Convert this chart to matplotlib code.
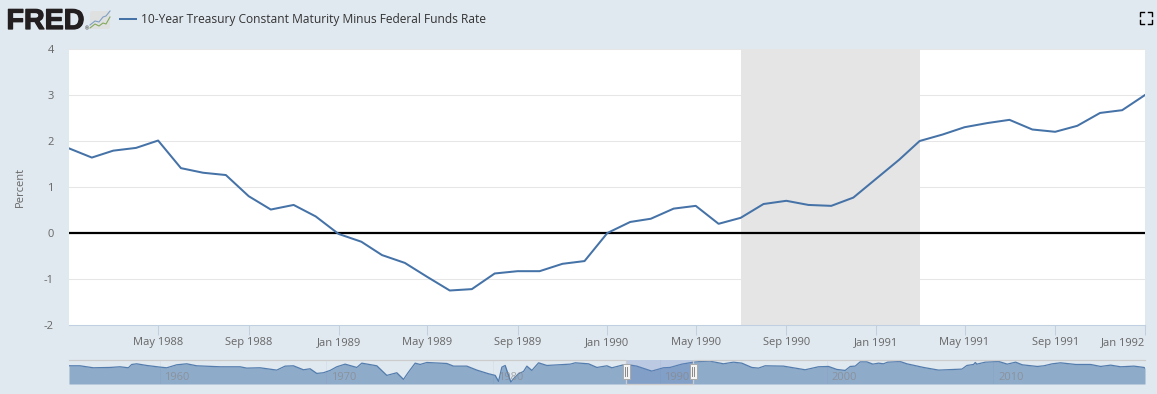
"""FRED chart: 10-year treasury minus federal funds rate, Jan 1988 to Jan 1992."""

import matplotlib.pyplot as plt
import matplotlib.patheffects as pe
import pandas as pd
from matplotlib.patches import FancyBboxPatch, Rectangle

W, H = 1157, 394
BG = "#e1e9f0"
BLUE = "#4572a7"

spread = [
    1.84, 1.64, 1.79, 1.85, 2.01, 1.41, 1.31, 1.26, 0.80, 0.51, 0.61, 0.36,
    -0.02, -0.19, -0.48, -0.65, -0.95, -1.25, -1.22, -0.88, -0.83, -0.83, -0.67, -0.61,
    0.00, 0.24, 0.31, 0.53, 0.59, 0.20, 0.33, 0.63, 0.70, 0.61, 0.59, 0.77,
    1.18, 1.59, 2.00, 2.14, 2.30, 2.39, 2.46, 2.25, 2.20, 2.33, 2.61, 2.67, 3.00,
]
months = pd.date_range("1988-01-01", periods=len(spread), freq="MS")

recession = ("1990-07-01", "1991-03-01")
y_ticks = [-2, -1, 0, 1, 2, 3, 4]
x_ticks = pd.to_datetime([
    "1988-05-01", "1988-09-01", "1989-01-01", "1989-05-01", "1989-09-01", "1990-01-01",
    "1990-05-01", "1990-09-01", "1991-01-01", "1991-05-01", "1991-09-01", "1992-01-01",
])
x_labels = [
    "May 1988", "Sep 1988", "Jan 1989", "May 1989", "Sep 1989", "Jan 1990",
    "May 1990", "Sep 1990", "Jan 1991", "May 1991", "Sep 1991", "Jan 1992",
]

# navigator strip, whole history of the series
nav_years = [
    1954.57, 1955.23, 1956.03, 1957.03, 1957.63, 1958.13, 1958.33, 1958.63, 1959.23,
    1960.03, 1960.43, 1961.03, 1961.63, 1962.23, 1963.63, 1964.83, 1965.23, 1966.03,
    1967.03, 1967.53, 1968.03, 1968.63, 1969.03, 1969.43, 1969.83, 1970.23, 1970.63,
    1971.13, 1971.83, 1972.13, 1973.03, 1973.63, 1974.23, 1974.63, 1974.93, 1975.33,
    1975.63, 1976.03, 1977.23, 1977.63, 1978.03, 1978.43, 1979.03, 1979.73, 1980.13,
    1980.33, 1980.53, 1980.73, 1980.93, 1981.07, 1981.23, 1981.53, 1981.83, 1982.03,
    1982.33, 1982.73, 1983.23, 1984.63, 1984.93, 1985.73, 1986.23, 1986.83, 1987.13,
    1987.83, 1988.02, 1988.62, 1989.52, 1990.22, 1990.62, 1991.32, 1992.02, 1992.42,
    1993.02, 1993.82, 1994.42, 1994.92, 1995.52, 1995.92, 1996.32, 1997.42, 1998.72,
    1999.52, 2000.12, 2000.62, 2001.12, 2001.42, 2001.72, 2002.02, 2002.42, 2002.78,
    2003.12, 2003.42, 2003.66, 2004.42, 2004.82, 2005.82, 2006.72, 2008.12, 2008.42,
    2008.82, 2008.92, 2009.02, 2009.52, 2010.34, 2010.84, 2011.34, 2011.74, 2012.64,
    2013.04, 2013.54, 2014.04, 2014.94, 2015.84, 2016.44, 2017.04, 2017.64, 2018.44,
    2019.04, 2019.10,
]
nav_values = [
    1.20, 1.20, 0.24, 0.40, 0.72, 0.24, 1.84, 2.16, 1.36,
    0.56, 0.24, 1.68, 2.16, 1.20, 0.72, 0.72, 0.08, 0.24,
    -0.88, 1.04, 1.20, -0.72, -0.24, -2.48, -2.16, -1.04, 0.72,
    2.00, 0.40, 2.48, 1.20, -3.44, -2.16, -5.36, -1.84, 2.48,
    1.84, 2.80, 2.32, 1.04, 1.04, 1.04, -0.88, -2.64, -3.44,
    -6.32, 0.56, 1.36, -3.44, -6.64, -5.04, -2.64, -1.52, 1.04,
    -1.04, 2.64, 1.36, 2.00, 2.64, 2.16, 0.40, 1.20, 0.24,
    1.68, 1.84, 1.04, -1.36, 0.24, 0.40, 2.00, 2.96, 3.28,
    3.44, 2.16, 2.96, 2.48, 0.40, 0.08, 1.20, 1.04, -0.72,
    0.72, 0.88, -0.56, -1.04, 0.88, 1.04, 3.12, 3.12, 2.00,
    2.48, 2.16, 2.96, 3.28, 2.16, 0.40, -0.88, -0.40, 1.36,
    1.84, 2.80, 2.00, 2.96, 3.28, 2.00, 2.96, 1.68, 0.88,
    1.20, 2.16, 2.64, 1.84, 1.84, 0.88, 1.52, 0.72, 1.04,
    0.40, 0.08,
]
nav_decades = [1960, 1970, 1980, 1990, 2000, 2010]
window = (1988.0, 1992.0)

plt.rcParams["font.family"] = ["Open Sans", "DejaVu Sans"]
plt.rcParams["axes.unicode_minus"] = False


def px_axes(fig, left, top, right, bottom, **kw):
    return fig.add_axes([left / W, 1 - bottom / H, (right - left) / W, (bottom - top) / H], **kw)


fig = plt.figure(figsize=(W / 100, H / 100), dpi=100, facecolor=BG)

# main plot
ax = px_axes(fig, 69, 49, 1145, 325, facecolor="white")
ax.set_xlim(months[0], months[-1])
ax.set_ylim(-2, 4)
ax.set_yticks(y_ticks)
ax.grid(axis="y", color="#e6e6e6", lw=0.75)
ax.set_axisbelow(True)
ax.axvspan(pd.Timestamp(recession[0]), pd.Timestamp(recession[1]), color="#e5e5e5", lw=0, zorder=1.5)
ax.axhline(0, color="black", lw=1.6, zorder=2)
ax.plot(months, spread, color=BLUE, lw=1.45, zorder=3)
for side in ["top", "left", "right"]:
    ax.spines[side].set_visible(False)
ax.spines["bottom"].set_color("#c0d0e0")
ax.spines["bottom"].set_linewidth(0.75)
ax.tick_params(axis="y", length=0, pad=11, labelsize=8, labelcolor="#666666")
ax.set_xticks(x_ticks)
ax.set_xticklabels(x_labels)
ax.tick_params(axis="x", length=7.2, width=0.75, color="#c0d0e0", pad=1.2, labelsize=8, labelcolor="#666666")
ax.get_xticklabels()[-1].set_ha("right")
ax.set_ylabel("Percent", fontsize=8, color="#666666")
ax.yaxis.set_label_coords((26 - 69) / (1145 - 69), 0.5)

# navigator
nav = px_axes(fig, 69, 359.5, 1145, 384, facecolor="none")
nav.set_xlim(nav_years[0], nav_years[-1])
nav.set_ylim(-7.6, 4.24)
nav.axis("off")
for year in nav_decades:
    nav.axvline(year, color="#d8e0ea", lw=0.7, zorder=0)
nav.fill_between(nav_years, nav_values, -7.6, color=BLUE, alpha=0.52, lw=0, zorder=1)
nav.plot(nav_years, nav_values, color=BLUE, lw=0.9, alpha=0.9, zorder=2)
nav.axvspan(window[0], window[1], color="#6685c2", alpha=0.3, lw=0, zorder=3)
nav.plot(
    [nav_years[0], window[0], window[0], window[1], window[1], nav_years[-1]],
    [4.24, 4.24, -7.6, -7.6, 4.24, 4.24],
    color="#cccccc", lw=0.9, zorder=3, clip_on=False,
)
for year in nav_decades:
    nav.annotate(str(year), (year, 0), xycoords=("data", "axes fraction"), xytext=(3.4, 3.2),
                 textcoords="offset points", fontsize=8, color="#888888", alpha=0.7, ha="left", zorder=4)

# header decorations in pixel coordinates
deco = fig.add_axes([0, 0, 1, 1], facecolor="none", zorder=5)
deco.set_xlim(0, W)
deco.set_ylim(H, 0)
deco.axis("off")

deco.text(6.5, 29, "FRED", family="Liberation Sans", fontweight="bold", fontsize=20.6, color="#231f20",
          va="baseline", ha="left", path_effects=[pe.withStroke(linewidth=0.9, foreground="#231f20")])
deco.text(84.5, 30, "®", fontsize=3.5, color="#231f20", va="baseline")
deco.add_patch(FancyBboxPatch((90, 11), 20, 18, boxstyle="round,pad=0,rounding_size=2", fc="#dfe1e1", ec="none"))
deco.plot([90, 95, 99, 103, 106, 110], [25, 21, 22, 17, 16, 11], color="#7f9fc4", lw=0.8)
deco.plot([90, 95, 99, 103, 106, 110], [28, 24, 26, 23, 24, 17], color="#84a85c", lw=0.8)

deco.plot([120, 136], [19, 19], color=BLUE, lw=1.45)
deco.text(141, 19.5, "10-Year Treasury Constant Maturity Minus Federal Funds Rate",
          fontsize=8.65, color="#333333", va="center", ha="left")

# fullscreen icon
for x0, x1, y0, y1 in [(1140, 1144, 12, 16), (1152, 1148, 12, 16), (1140, 1144, 24, 20), (1152, 1148, 24, 20)]:
    deco.plot([x0, x0, x1], [y1, y0, y0], color="black", lw=1.0, solid_joinstyle="miter")

# navigator handles
for hx in (626.3, 693):
    deco.add_patch(Rectangle((hx - 3.5, 364), 7, 15, fc="#f4f4f4", ec="#aaaaaa", lw=0.7))
    deco.plot([hx - 1, hx - 1], [367, 376], color="#888888", lw=0.7)
    deco.plot([hx + 1, hx + 1], [367, 376], color="#888888", lw=0.7)

fig.savefig("out.png", dpi=100, facecolor=BG)
plt.close(fig)
